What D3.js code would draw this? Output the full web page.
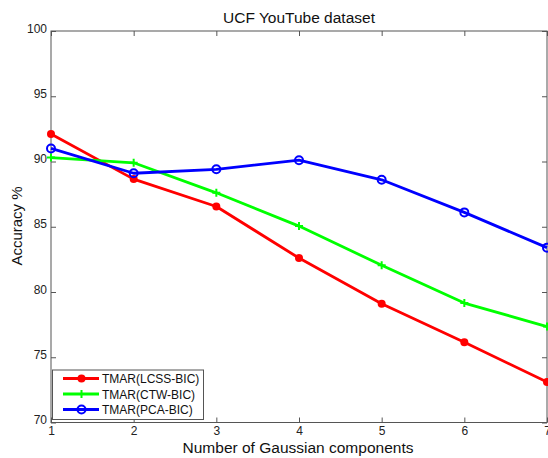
<!DOCTYPE html>
<html><head><meta charset="utf-8">
<script src="https://cdn.jsdelivr.net/npm/d3@7"></script>
<style>body{margin:0;background:#fff}svg{display:block}text{font-family:Arial,"Liberation Sans",sans-serif}</style>
</head><body><div id="chart"></div>
<script>
const components = [1, 2, 3, 4, 5, 6, 7];
const lcss = [92.1, 88.65, 86.55, 82.6, 79.1, 76.15, 73.1];
const ctw  = [90.3, 89.9, 87.6, 85.05, 82.05, 79.15, 77.35];
const pca  = [91.0, 89.1, 89.4, 90.1, 88.6, 86.1, 83.4];
const seriesNames = ["TMAR(LCSS-BIC)", "TMAR(CTW-BIC)", "TMAR(PCA-BIC)"];
const yTicks = [70, 75, 80, 85, 90, 95, 100];
const xTicks = [1, 2, 3, 4, 5, 6, 7];

const W = 548, H = 458;
const L = 51, R = 547, T = 31, B = 422.5;
const svg = d3.select("#chart").append("svg").attr("width", W).attr("height", H);
const x = d3.scaleLinear().domain([1, 7]).range([L, R]);
const y = d3.scaleLinear().domain([70, 100]).range([B, T]);
const axisCol = "#555";

svg.append("rect").attr("x", L).attr("y", T).attr("width", R - L).attr("height", B - T)
  .attr("fill", "none").attr("stroke", axisCol).attr("stroke-width", 1);

const gx = svg.append("g").attr("transform", `translate(0,${B})`)
  .call(d3.axisBottom(x).tickValues(xTicks).tickSize(-5).tickPadding(4).tickFormat(d3.format("d")));
const gxt = svg.append("g").attr("transform", `translate(0,${T})`)
  .call(d3.axisTop(x).tickValues(xTicks).tickSize(-5).tickFormat(""));
const gy = svg.append("g").attr("transform", `translate(${L},0)`)
  .call(d3.axisLeft(y).tickValues(yTicks).tickSize(-5).tickPadding(4).tickFormat(d3.format("d")));
const gyr = svg.append("g").attr("transform", `translate(${R},0)`)
  .call(d3.axisRight(y).tickValues(yTicks).tickSize(-5).tickFormat(""));
[gx, gxt, gy, gyr].forEach(g => {
  g.select(".domain").remove();
  g.selectAll(".tick line").attr("stroke", axisCol);
  g.selectAll("text").attr("font-size", 12).attr("fill", "#222");
});
gy.selectAll(".tick text").attr("dy", "0.1em");

svg.append("text").attr("x", 299).attr("y", 23).attr("text-anchor", "middle")
  .attr("font-size", 15.5).attr("fill", "#111").text("UCF YouTube dataset");
svg.append("text").attr("x", 298).attr("y", 453).attr("text-anchor", "middle")
  .attr("font-size", 15.5).attr("fill", "#111").text("Number of Gaussian components");
svg.append("text").attr("transform", "translate(22,226) rotate(-90)").attr("text-anchor", "middle")
  .attr("font-size", 15).attr("fill", "#111").text("Accuracy %");

const series = [
  {name: seriesNames[0], vals: lcss, color: "#ff0000", marker: "dot"},
  {name: seriesNames[1], vals: ctw, color: "#00ff00", marker: "plus"},
  {name: seriesNames[2], vals: pca, color: "#0000ff", marker: "circle"}
];
const line = d3.line().x((d, i) => x(components[i])).y(d => y(d));

function drawMarker(g, cx, cy, s) {
  if (s.marker === "dot") {
    g.append("circle").attr("cx", cx).attr("cy", cy).attr("r", 4).attr("fill", s.color);
  } else if (s.marker === "plus") {
    g.append("path").attr("d", `M${cx - 4},${cy}H${cx + 4}M${cx},${cy - 4}V${cy + 4}`)
      .attr("stroke", s.color).attr("stroke-width", 2);
  } else {
    g.append("circle").attr("cx", cx).attr("cy", cy).attr("r", 4).attr("fill", "none")
      .attr("stroke", s.color).attr("stroke-width", 2);
  }
}

const plot = svg.append("g");
series.forEach(s => {
  plot.append("path").datum(s.vals).attr("d", line).attr("fill", "none")
    .attr("stroke", s.color).attr("stroke-width", 2.8).attr("stroke-linejoin", "round");
  s.vals.forEach((v, i) => drawMarker(plot, x(components[i]), y(v), s));
});

const lg = svg.append("g");
lg.append("rect").attr("x", 52.5).attr("y", 370).attr("width", 151).attr("height", 49.5)
  .attr("fill", "#fff").attr("stroke", axisCol).attr("stroke-width", 1);
series.forEach((s, i) => {
  const ly = 378.5 + i * 15.5;
  lg.append("line").attr("x1", 63).attr("x2", 99).attr("y1", ly).attr("y2", ly)
    .attr("stroke", s.color).attr("stroke-width", 2.8);
  drawMarker(lg, 81.5, ly, s);
  lg.append("text").attr("x", 102).attr("y", ly + 4.5).attr("font-size", 12)
    .attr("fill", "#111").text(s.name);
});
</script></body></html>
